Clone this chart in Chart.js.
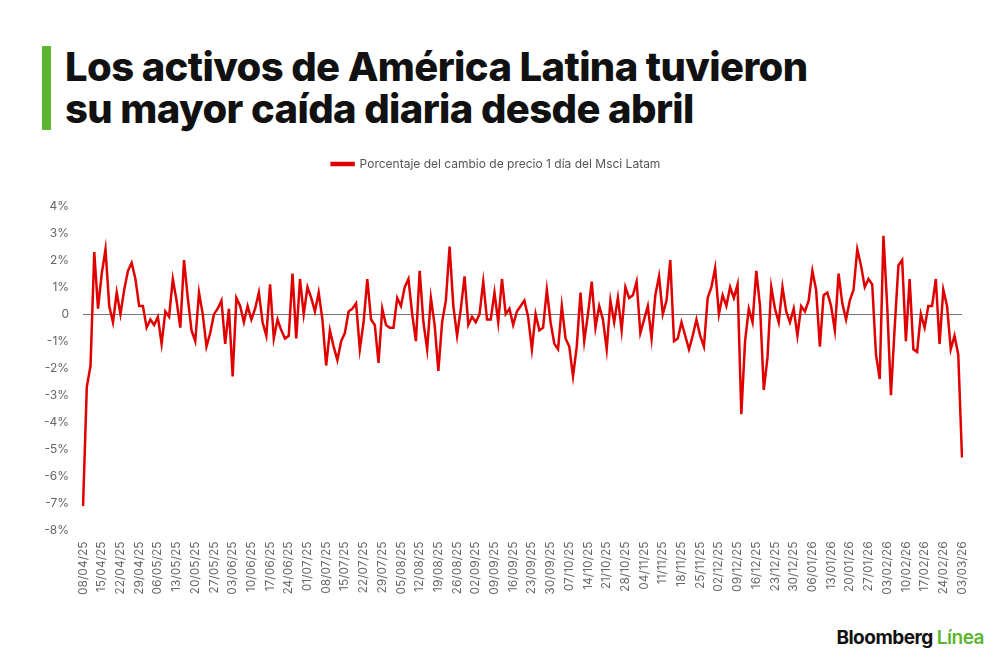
<!DOCTYPE html>
<html lang="es">
<head>
<meta charset="UTF-8">
<title>Msci Latam</title>
<script src="https://cdn.jsdelivr.net/npm/chart.js"></script>
<style>
  body { margin: 0; background: #fff; font-family: "Inter", "Open Sans", sans-serif; }
  #title { position: absolute; left: 42px; top: 46px; border-left: 9px solid #5cb531; padding-left: 14px;
           font-size: 40px; font-weight: 800; line-height: 42px; color: #111; letter-spacing: -0.6px; }
  #wrap { position: absolute; left: 30px; top: 128px; width: 950px; height: 470px; }
  #logo { position: absolute; right: 16px; top: 626px; font-size: 19px; font-weight: 700; color: #111; letter-spacing: -0.5px; }
  #logo span { color: #5cb531; font-weight: 600; }
</style>
</head>
<body>
<div id="title">Los activos de América Latina tuvieron<br>su mayor caída diaria desde abril</div>
<div id="wrap"><canvas id="c"></canvas></div>
<div id="logo">Bloomberg <span>Línea</span></div>
<script>
// one tick label per 5 trading days
const tickLabels = ['08/04/25','15/04/25','22/04/25','29/04/25','06/05/25','13/05/25','20/05/25','27/05/25',
  '03/06/25','10/06/25','17/06/25','24/06/25','01/07/25','08/07/25','15/07/25','22/07/25','29/07/25',
  '05/08/25','12/08/25','19/08/25','26/08/25','02/09/25','09/09/25','16/09/25','23/09/25','30/09/25',
  '07/10/25','14/10/25','21/10/25','28/10/25','04/11/25','11/11/25','18/11/25','25/11/25','02/12/25',
  '09/12/25','16/12/25','23/12/25','30/12/25','06/01/26','13/01/26','20/01/26','27/01/26','03/02/26',
  '10/02/26','17/02/26','24/02/26','03/03/26'];

const change = [
  -7.1,-2.7,-1.9,2.3,0.2,  1.5,2.4,0.3,-0.3,0.8,  0.0,0.9,1.6,1.9,1.3,  0.3,0.3,-0.5,-0.2,-0.4,
  -0.1,-1.1,0.1,-0.1,1.3,  0.5,-0.5,2.0,0.6,-0.6,  -1.0,0.8,0.0,-1.2,-0.7,  0.0,0.2,0.5,-1.1,0.2,
  -2.3,0.6,0.3,-0.3,0.3,  -0.2,0.2,0.8,-0.3,-0.8,  1.1,-0.9,-0.2,-0.6,-0.9,  -0.8,1.5,-0.9,1.3,0.0,
  1.0,0.6,0.1,0.8,-0.2,  -1.9,-0.6,-1.2,-1.7,-1.0,  -0.7,0.1,0.2,0.4,-1.3,  -0.3,1.3,-0.2,-0.4,-1.8,
  0.2,-0.4,-0.5,-0.5,0.6,  0.3,1.0,1.3,0.0,-1.0,  1.6,-0.3,-1.3,0.6,-0.4,  -2.1,-0.3,0.5,2.5,0.3,
  -0.8,0.2,1.4,-0.4,-0.1,  -0.3,0.0,1.2,-0.2,-0.2,  0.8,-0.3,1.3,0.0,0.2,  -0.4,0.1,0.3,0.5,-0.1,
  -1.3,0.0,-0.6,-0.5,0.9,  -0.3,-1.1,-1.3,0.3,-0.9,  -1.2,-2.3,-1.2,0.8,-1.0,  0.0,1.2,-0.5,0.3,-0.2,
  -1.3,0.5,-0.3,0.6,-0.6,  1.0,0.6,0.7,1.2,-0.7,  -0.2,0.3,-0.9,0.7,1.4,  0.0,0.5,2.0,-1.0,-0.9,
  -0.3,-0.8,-1.3,-0.8,-0.2,  -0.8,-1.2,0.6,1.0,1.7,  0.0,0.7,0.3,1.0,0.6,  1.1,-3.7,-1.0,0.2,-0.3,
  1.6,0.3,-2.8,-1.6,1.0,  0.2,-0.3,1.0,0.1,-0.3,  0.2,-0.8,0.3,0.1,0.5,  1.6,0.9,-1.2,0.7,0.8,
  0.3,-0.6,1.5,0.4,-0.2,  0.5,0.9,2.4,1.8,1.0,  1.3,1.1,-1.5,-2.4,2.9,  0.3,-3.0,-0.5,1.8,2.0,
  -1.0,1.3,-1.3,-1.4,0.0,  -0.5,0.3,0.3,1.3,-1.1,  0.9,0.3,-1.3,-0.8,-1.5,  -5.3];

const labels = change.map((v, i) => i % 5 === 0 ? tickLabels[i / 5] : '');

// extra room under the legend
const legendGap = {
  id: 'legendGap',
  beforeInit(chart) {
    const fit = chart.legend.fit;
    chart.legend.fit = function () { fit.bind(chart.legend)(); this.height += 26; };
  }
};

new Chart(document.getElementById('c'), {
  type: 'line',
  data: {
    labels: labels,
    datasets: [{
      label: 'Porcentaje del cambio de precio 1 día del Msci Latam',
      data: change,
      borderColor: '#e00000',
      backgroundColor: '#e00000',
      borderWidth: 2.5,
      pointRadius: 0,
      tension: 0
    }]
  },
  options: {
    responsive: true,
    maintainAspectRatio: false,
    animation: false,
    layout: { padding: { right: 18 } },
    plugins: {
      legend: {
        labels: {
          boxWidth: 22, boxHeight: 2, color: '#555',
          font: { family: 'Inter', size: 12 }, padding: 30
        }
      },
      tooltip: { enabled: false }
    },
    scales: {
      x: {
        grid: { display: false },
        border: { display: false },
        ticks: {
          autoSkip: false, maxRotation: 90, minRotation: 90,
          color: '#666', font: { family: 'Inter', size: 12 }
        }
      },
      y: {
        min: -8, max: 4,
        border: { display: false },
        grid: {
          drawTicks: false,
          color: ctx => ctx.tick && ctx.tick.value === 0 ? '#777' : 'transparent'
        },
        ticks: {
          stepSize: 1, padding: 14, color: '#666',
          font: { family: 'Inter', size: 12 },
          callback: v => v === 0 ? '0' : v + '%'
        }
      }
    }
  },
  plugins: [legendGap]
});
</script>
</body>
</html>
